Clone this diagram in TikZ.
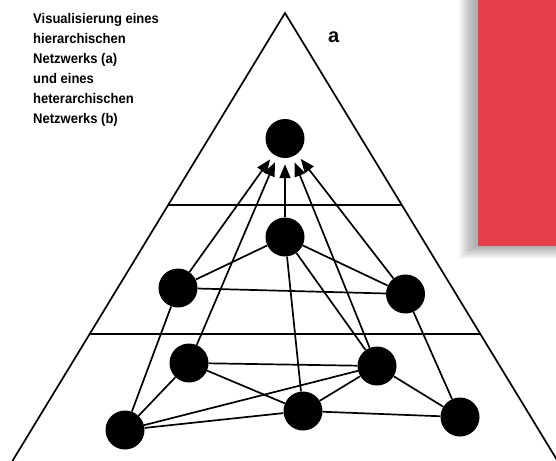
\documentclass[tikz,border=0pt]{standalone}
\usepackage{fontspec}
\setmainfont{Liberation Sans}
\newfontfamily\capfont[FakeStretch=0.93]{Liberation Sans}
\usetikzlibrary{arrows.meta,calc}
\definecolor{signalred}{RGB}{230,62,75}
\begin{document}
\begin{tikzpicture}[x=1pt,y=-1pt,
  dot/.style={circle,fill=black,minimum size=39pt,inner sep=0pt},
  link/.style={line width=1.7pt},
  up/.style={link,-{Triangle[length=14pt,width=11pt]},shorten >=6pt},
  frame/.style={line width=1.7pt},
  caption/.style={font=\capfont\bfseries\fontsize{14}{19.9}\selectfont,align=left,inner sep=0pt,anchor=north west},
  tag/.style={font=\bfseries\fontsize{20}{24}\selectfont,inner sep=0pt,anchor=base}]
\useasboundingbox (0,0) rectangle (556,460);
\clip (0,0) rectangle (556,460);

% pyramid outline and level separators
\coordinate (apex) at (285,13);
\coordinate (baseL) at (13,460);
\coordinate (baseR) at (557,460);
\draw[frame] ($(apex)!1.05!(baseL)$) -- (apex) -- ($(apex)!1.05!(baseR)$);
\draw[frame] ($(apex)!0.4295!(baseL)$) -- ($(apex)!0.4295!(baseR)$);
\draw[frame] ($(apex)!0.7181!(baseL)$) -- ($(apex)!0.7181!(baseR)$);

% red panel with soft shadow
\foreach \k in {1,...,16}{
  \fill[black,opacity=0.025] ({476-1.1*\k},-20) rectangle (600,{245.7+0.8*\k});
}
\fill[signalred] (478,-5) rectangle (560,245.7);

% caption and label
\node[caption] (cap) at (33,13.5) {Visualisierung eines\\hierarchischen\\Netzwerks (a)\\und eines\\heterarchischen\\Netzwerks (b)};
\node[tag] (lbla) at (333.8,42.7) {a};

% nodes
\node[dot] (top) at (285,138.5) {};
\node[dot] (m)   at (285,237) {};
\node[dot] (ml)  at (178,288) {};
\node[dot] (mr)  at (405.5,294) {};
\node[dot] (bl1) at (189,363) {};
\node[dot] (br1) at (377,366) {};
\node[dot] (bm)  at (303,411) {};
\node[dot] (bll) at (125,430) {};
\node[dot] (brr) at (460,417) {};

% upward arrows to the top node
\draw[up] (ml) -- (top);
\draw[up] (bl1) -- (top);
\draw[up] (m) -- (top);
\draw[up] (br1) -- (top);
\draw[up] (mr) -- (top);

% middle level
\draw[link] (ml) -- (m);
\draw[link] (m) -- (mr);
\draw[link] (ml) -- (mr);
\draw[link] (ml) -- (bll);
\draw[link] (m) -- (bm);
\draw[link] (m) -- (br1);
\draw[link] (mr) -- (brr);

% bottom level
\draw[link] (bl1) -- (br1);
\draw[link] (bl1) -- (bm);
\draw[link] (bll) -- (bl1);
\draw[link] (bll) -- (br1);
\draw[link] (bll) -- (bm);
\draw[link] (bm) -- (br1);
\draw[link] (br1) -- (brr);
\draw[link] (bm) -- (brr);
\end{tikzpicture}
\end{document}
